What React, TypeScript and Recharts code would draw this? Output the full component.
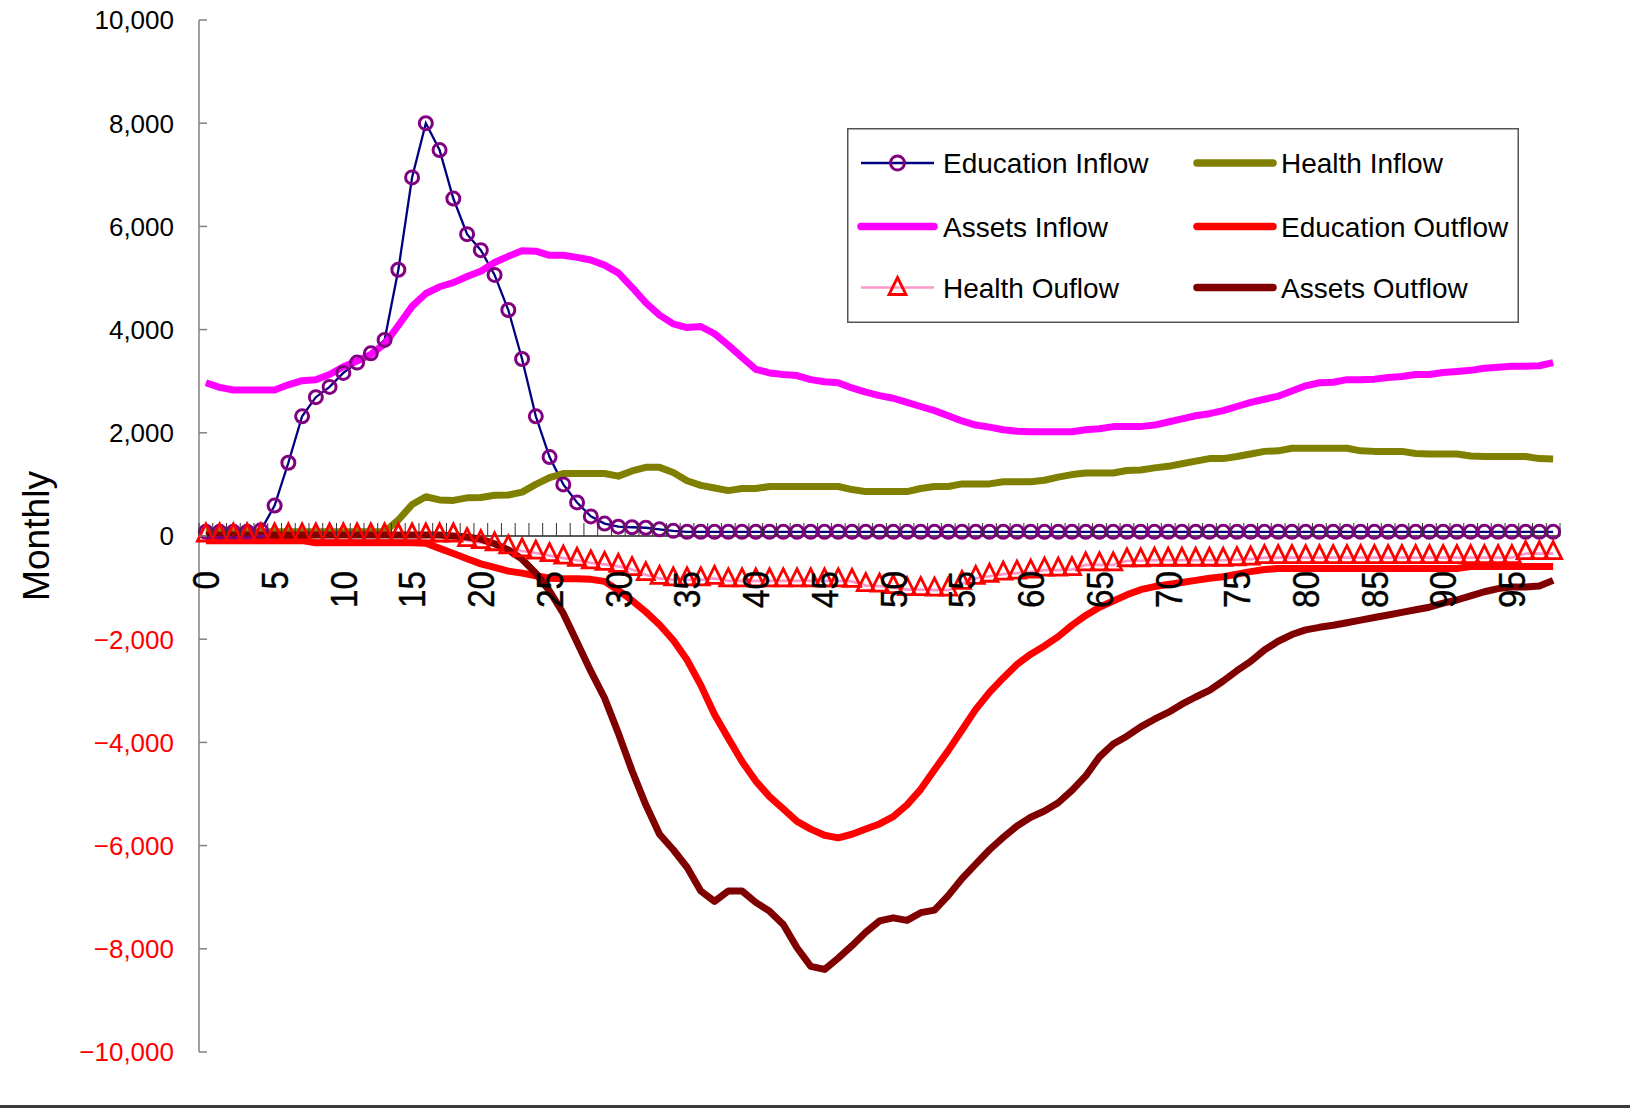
import { LineChart, Line, XAxis, YAxis, ReferenceLine, Legend } from 'recharts';

// month index 0..98 along the horizontal axis
const MONTHS = Array.from({ length: 99 }, (_, i) => i);
const MONTH_LABELS = [0, 5, 10, 15, 20, 25, 30, 35, 40, 45, 50, 55, 60, 65, 70, 75, 80, 85, 90, 95];
const VALUE_TICKS = [-10000, -8000, -6000, -4000, -2000, 0, 2000, 4000, 6000, 8000, 10000];

const EDUCATION_INFLOW = [
  80, 80, 80, 80, 110, 590, 1420, 2320, 2690, 2890,
  3160, 3360, 3540, 3800, 5160, 6950, 8000, 7480, 6540, 5850,
  5540, 5060, 4380, 3430, 2320, 1530, 1000, 650, 380, 240,
  180, 170, 160, 130, 100, 80, 80, 80, 80, 80,
  80, 80, 80, 80, 80, 80, 80, 80, 80, 80,
  80, 80, 80, 80, 80, 80, 80, 80, 80, 80,
  80, 80, 80, 80, 80, 80, 80, 80, 80, 80,
  80, 80, 80, 80, 80, 80, 80, 80, 80, 80,
  80, 80, 80, 80, 80, 80, 80, 80, 80, 80,
  80, 80, 80, 80, 80, 80, 80, 80, 80,
];

const HEALTH_INFLOW = [
  80, 80, 80, 80, 80, 80, 80, 80, 80, 80,
  80, 80, 80, 80, 310, 610, 760, 700, 690, 740,
  745, 790, 795, 850, 1000, 1130, 1210, 1210, 1210, 1210,
  1160, 1260, 1330, 1330, 1230, 1070, 980, 930, 880, 920,
  920, 960, 960, 960, 960, 960, 960, 900, 860, 860,
  860, 860, 920, 960, 960, 1010, 1010, 1010, 1050, 1050,
  1050, 1080, 1140, 1190, 1220, 1220, 1220, 1270, 1280, 1320,
  1350, 1400, 1450, 1500, 1500, 1540, 1590, 1640, 1650, 1700,
  1700, 1700, 1700, 1700, 1650, 1640, 1640, 1640, 1600, 1590,
  1590, 1590, 1550, 1540, 1540, 1540, 1540, 1500, 1490,
];

const ASSETS_INFLOW = [
  2970, 2880, 2830, 2830, 2830, 2830, 2930, 3010, 3030, 3130,
  3280, 3390, 3520, 3720, 4080, 4450, 4700, 4830, 4910, 5030,
  5130, 5300, 5420, 5530, 5520, 5440, 5440, 5400, 5350, 5250,
  5100, 4820, 4520, 4280, 4110, 4040, 4060, 3920, 3700, 3460,
  3230, 3160, 3130, 3110, 3030, 2990, 2970, 2870, 2790, 2720,
  2670, 2590, 2510, 2430, 2330, 2230, 2150, 2110, 2060, 2030,
  2020, 2020, 2020, 2020, 2060, 2080, 2120, 2120, 2120, 2150,
  2210, 2270, 2330, 2370, 2430, 2510, 2590, 2650, 2710, 2810,
  2910, 2970, 2980, 3030, 3030, 3040, 3070, 3090, 3130, 3130,
  3170, 3190, 3210, 3250, 3270, 3290, 3290, 3300, 3360,
];

const EDUCATION_OUTFLOW = [
  -90, -90, -90, -90, -90, -90, -90, -90, -130, -130,
  -130, -130, -130, -130, -130, -130, -140, -240, -340, -440,
  -540, -610, -680, -720, -770, -820, -830, -830, -840, -880,
  -1050, -1250, -1470, -1720, -2020, -2400, -2890, -3460, -3920, -4370,
  -4750, -5050, -5290, -5530, -5680, -5800, -5850, -5780, -5680, -5580,
  -5440, -5210, -4910, -4530, -4160, -3760, -3360, -3030, -2750, -2490,
  -2290, -2130, -1950, -1730, -1540, -1380, -1260, -1140, -1040, -980,
  -940, -900, -860, -820, -790, -740, -690, -650, -630, -630,
  -630, -630, -630, -630, -630, -630, -630, -630, -630, -630,
  -630, -630, -590, -590, -590, -590, -590, -590, -590,
];

const HEALTH_OUTFLOW = [
  0, 0, 0, 0, 0, 0, 0, 0, 0, 0,
  0, 0, 0, 0, 0, 0, 0, 0, 0, -90,
  -130, -170, -230, -290, -330, -380, -430, -470, -520, -550,
  -590, -650, -750, -820, -850, -850, -850, -820, -870, -870,
  -870, -870, -870, -870, -870, -870, -870, -880, -960, -970,
  -1000, -1040, -1040, -1050, -1050, -920, -820, -780, -740, -720,
  -700, -660, -660, -650, -560, -560, -560, -480, -480, -470,
  -470, -470, -470, -470, -470, -460, -450, -420, -420, -420,
  -420, -420, -420, -420, -420, -420, -420, -420, -420, -420,
  -420, -420, -420, -420, -420, -420, -340, -340, -340,
];

const ASSETS_OUTFLOW = [
  20, 20, 20, 20, 20, 20, 20, 20, 20, 20,
  20, 20, 20, 20, 20, 20, 20, 20, 0, -20,
  -60, -150, -270, -450, -720, -1070, -1500, -2060, -2620, -3140,
  -3820, -4550, -5210, -5780, -6080, -6420, -6880, -7080, -6880, -6880,
  -7100, -7270, -7530, -7980, -8340, -8400, -8180, -7940, -7680, -7460,
  -7400, -7450, -7300, -7250, -6970, -6640, -6360, -6080, -5840, -5620,
  -5450, -5330, -5170, -4930, -4650, -4280, -4030, -3880, -3700, -3550,
  -3420, -3260, -3120, -2990, -2810, -2610, -2430, -2210, -2040, -1910,
  -1820, -1770, -1730, -1680, -1630, -1580, -1530, -1480, -1430, -1380,
  -1300, -1240, -1160, -1080, -1020, -990, -990, -970, -860,
];

const rows = MONTHS.map((m, i) => ({
  month: m,
  eduIn: EDUCATION_INFLOW[i],
  healthIn: HEALTH_INFLOW[i],
  assetsIn: ASSETS_INFLOW[i],
  eduOut: EDUCATION_OUTFLOW[i],
  healthOut: HEALTH_OUTFLOW[i],
  assetsOut: ASSETS_OUTFLOW[i],
}));

// tick marks sit between months, labels sit on every fifth month
const MONTH_BOUNDS = [...MONTHS.map((m) => m - 0.5), MONTHS.length - 0.5];
const X_TICKS = [...MONTH_BOUNDS, ...MONTH_LABELS];

const W = 1630;
const H = 1109;
const TOP = 20;
const X_AXIS_H = 57;
const ZERO_Y = TOP + (H - TOP - X_AXIS_H) / 2;
const FONT = '"Liberation Sans", Arial, sans-serif';

const fmtValue = (v: number) => (v < 0 ? '\u2212' : '') + Math.abs(v).toLocaleString('en-US');

function MonthTick(props: any) {
  const { x, payload } = props;
  const v = payload.value;
  if (!Number.isInteger(v)) {
    return <line x1={x} x2={x} y1={ZERO_Y} y2={ZERO_Y - 13} stroke="#333" strokeWidth={1} />;
  }
  const ty = ZERO_Y + 35;
  const s = String(v);
  return (
    <text
      x={x}
      y={ty}
      dy="0.36em"
      transform={`rotate(-90 ${x} ${ty})`}
      textAnchor="end"
      fontFamily={FONT}
      fontSize={37}
      fill="#000"
      stroke="#000"
      strokeWidth={0.4}
      textLength={s.length * 18.5}
      lengthAdjust="spacingAndGlyphs"
    >
      {s}
    </text>
  );
}

function ValueTick(props: any) {
  const { x, y, payload } = props;
  const v = payload.value;
  return (
    <g>
      <line x1={x} x2={x + 8} y1={y} y2={y} stroke="#808080" strokeWidth={1.5} />
      <text
        x={x - 25}
        y={y}
        dy="0.36em"
        textAnchor="end"
        fontFamily={FONT}
        fontSize={26}
        fill={v < 0 ? '#FF0000' : '#000'}
      >
        {fmtValue(v)}
      </text>
    </g>
  );
}

function MonthlyTitle(props: any) {
  const { viewBox } = props;
  const x = viewBox.x + 36;
  const y = viewBox.y + viewBox.height / 2;
  return (
    <text
      x={x}
      y={y}
      dy="0.36em"
      transform={`rotate(-90 ${x} ${y})`}
      textAnchor="middle"
      fontFamily={FONT}
      fontSize={36}
      fill="#000"
      textLength={130}
      lengthAdjust="spacingAndGlyphs"
    >
      Monthly
    </text>
  );
}

function CircleDot(props: any) {
  const { cx, cy, index } = props;
  if (cx == null || cy == null) return <g key={index} />;
  return <circle key={index} cx={cx} cy={cy} r={6.5} fill="none" stroke="#800080" strokeWidth={3} />;
}

function TriangleDot(props: any) {
  const { cx, cy, index } = props;
  if (cx == null || cy == null) return <g key={index} />;
  const d = `M${cx},${cy - 12} L${cx + 8.5},${cy + 5} L${cx - 8.5},${cy + 5} Z`;
  return <path key={index} d={d} fill="none" stroke="#FF0000" strokeWidth={2.8} strokeLinejoin="miter" />;
}

type KeyItem = { name: string; color: string; width: number; marker?: 'circle' | 'triangle' };

const KEY_ROWS: KeyItem[][] = [
  [
    { name: 'Education Inflow', color: '#000080', width: 2.5, marker: 'circle' },
    { name: 'Health Inflow', color: '#808000', width: 7.5 },
  ],
  [
    { name: 'Assets Inflow', color: '#FF00FF', width: 7.5 },
    { name: 'Education Outflow', color: '#FF0000', width: 7.5 },
  ],
  [
    { name: 'Health Ouflow', color: '#FF99CC', width: 2.7, marker: 'triangle' },
    { name: 'Assets Outflow', color: '#800000', width: 7.5 },
  ],
];

function ChartKey() {
  const rowY = [35, 98.5, 159.5];
  const cols = [
    { x1: 14, x2: 87, tx: 96 },
    { x1: 350, x2: 426, tx: 434 },
  ];
  return (
    <svg width={672} height={195} style={{ display: 'block' }}>
      <rect x={0.75} y={0.75} width={670.5} height={193.5} fill="#fff" stroke="#555" strokeWidth={1.5} />
      {KEY_ROWS.map((row, r) =>
        row.map((item, c) => {
          const col = cols[c];
          const cy = rowY[r];
          const mx = (col.x1 + col.x2) / 2;
          const thick = item.width > 5;
          return (
            <g key={item.name}>
              <line
                x1={col.x1}
                x2={col.x2}
                y1={cy}
                y2={cy}
                stroke={item.color}
                strokeWidth={item.width}
                strokeLinecap={thick ? 'round' : 'butt'}
              />
              {item.marker === 'circle' && (
                <circle cx={mx} cy={cy} r={7} fill="none" stroke="#800080" strokeWidth={3} />
              )}
              {item.marker === 'triangle' && (
                <path
                  d={`M${mx},${cy - 10} L${mx + 8.5},${cy + 7} L${mx - 8.5},${cy + 7} Z`}
                  fill="none"
                  stroke="#FF0000"
                  strokeWidth={2.8}
                />
              )}
              <text x={col.tx} y={cy} dy="0.36em" fontFamily={FONT} fontSize={28} fill="#000">
                {item.name}
              </text>
            </g>
          );
        }),
      )}
    </svg>
  );
}

export default function App() {
  return (
    <div style={{ position: 'absolute', left: 0, top: 0, width: W, height: H, background: '#fff' }}>
      <LineChart width={W} height={H} data={rows} margin={{ top: TOP, right: 70, bottom: 0, left: 0 }}>
        <XAxis
          dataKey="month"
          type="number"
          domain={[-0.5, 98.5]}
          ticks={X_TICKS}
          interval={0}
          height={X_AXIS_H}
          axisLine={false}
          tickLine={false}
          tick={(p: any) => <MonthTick {...p} />}
        />
        <YAxis
          type="number"
          domain={[-10000, 10000]}
          ticks={VALUE_TICKS}
          interval={0}
          width={199}
          tickSize={0}
          tickMargin={0}
          tickLine={false}
          axisLine={{ stroke: '#808080', strokeWidth: 1.5 }}
          tick={(p: any) => <ValueTick {...p} />}
          label={(p: any) => <MonthlyTitle {...p} />}
        />
        <ReferenceLine y={0} stroke="#222" strokeWidth={1.5} />
        <Legend
          layout="vertical"
          align="center"
          verticalAlign="middle"
          content={() => <ChartKey />}
          wrapperStyle={{ left: 847, top: 128, width: 672, height: 195 }}
        />
        <Line
          dataKey="eduIn"
          type="linear"
          stroke="#000080"
          strokeWidth={2.3}
          dot={CircleDot}
          activeDot={false}
          isAnimationActive={false}
        />
        <Line dataKey="healthIn" type="linear" stroke="#808000" strokeWidth={7} strokeLinejoin="round" dot={false} activeDot={false} isAnimationActive={false} />
        <Line dataKey="assetsIn" type="linear" stroke="#FF00FF" strokeWidth={7} strokeLinejoin="round" dot={false} activeDot={false} isAnimationActive={false} />
        <Line dataKey="eduOut" type="linear" stroke="#FF0000" strokeWidth={7} strokeLinejoin="round" dot={false} activeDot={false} isAnimationActive={false} />
        <Line
          dataKey="healthOut"
          type="linear"
          stroke="#FF99CC"
          strokeWidth={2.7}
          dot={TriangleDot}
          activeDot={false}
          isAnimationActive={false}
        />
        <Line dataKey="assetsOut" type="linear" stroke="#800000" strokeWidth={7} strokeLinejoin="round" dot={false} activeDot={false} isAnimationActive={false} />
      </LineChart>
      <div style={{ position: 'absolute', left: 0, top: 1105, width: W, height: 3, background: '#3a3a3a' }} />
    </div>
  );
}
